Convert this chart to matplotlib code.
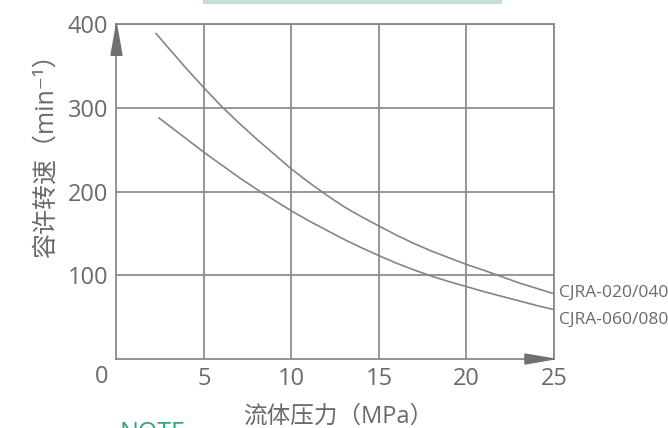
import matplotlib
matplotlib.use("Agg")
import matplotlib.pyplot as plt
from matplotlib.patches import Polygon, Rectangle

plt.rcParams['font.family'] = ['Open Sans', 'Noto Sans CJK SC', 'DejaVu Sans']

# pressure (MPa) vs allowed speed (min^-1)
x_upper = [2.26, 3, 4, 5, 6, 7, 8, 9, 10, 11, 12, 13, 14, 15, 16, 17, 18, 19, 20, 21, 22, 23, 24, 25]
y_upper = [389, 371, 347, 324, 302, 282, 263, 245, 227, 211, 196, 182, 170, 159, 148, 138, 129, 121, 113, 106, 98.5, 91, 84.5, 78]

x_lower = [2.43, 3, 4, 5, 6, 7, 8, 9, 10, 11, 12, 13, 14, 15, 16, 17, 18, 19, 20, 21, 22, 23, 24, 25]
y_lower = [288, 279, 263, 247, 232, 217, 203, 190, 177, 165, 154, 143, 133, 123.5, 114.5, 106.5, 99, 92.5, 86.5, 80.5, 75, 69.5, 64, 59]

series_names = ['CJRA-020/040', 'CJRA-060/080']
x_ticks = [5, 10, 15, 20, 25]
y_ticks = [100, 200, 300, 400]

line_col = '#858585'
text_col = '#6a6a6a'

fig = plt.figure(figsize=(6.68, 4.28), dpi=100)
ax = fig.add_axes([0.1744, 0.1612, 0.6549, 0.782])

ax.plot(x_upper, y_upper, color=line_col, lw=1.2, clip_on=False)
ax.plot(x_lower, y_lower, color=line_col, lw=1.2, clip_on=False)

ax.set_xlim(0, 25)
ax.set_ylim(0, 400)
ax.set_xticks(x_ticks)
ax.set_yticks(y_ticks)
ax.tick_params(length=0, labelsize=17, labelcolor=text_col)
ax.tick_params(axis='x', pad=6)
ax.tick_params(axis='y', pad=6)
ax.grid(True, color='#8e8e8e', lw=1.3)
for s in ax.spines.values():
    s.set_color('#8a8a8a')
    s.set_linewidth(1.3)
ax.set_axisbelow(True)

ax.text(-0.85, -22, '0', fontsize=17, color=text_col, ha='center', va='center')

# series labels at the right end of each curve
ax.text(25.3, y_upper[-1] + 1, series_names[0], fontsize=12.5, color=text_col, va='center', clip_on=False)
ax.text(25.3, y_lower[-1] - 12, series_names[1], fontsize=12.5, color=text_col, va='center', clip_on=False)

# arrow heads on the axes
w, h = 437.5, 335.0
ax.add_patch(Polygon([(0, 1), (-5.5 / w, 1 - 31 / h), (5.5 / w, 1 - 31 / h)], closed=True,
                     transform=ax.transAxes, color='#707070', clip_on=False, zorder=5))
ax.add_patch(Polygon([(1, 0), (1 - 29 / w, 5 / h), (1 - 29 / w, -5 / h)], closed=True,
                     transform=ax.transAxes, color='#707070', clip_on=False, zorder=5))

fig.text(46 / 668, 1 - 150 / 428, '容许转速（min⁻¹）', rotation=90, fontsize=18,
         color=text_col, ha='center', va='center')
fig.text(338 / 668, 1 - 417 / 428, '流体压力（MPa）', fontsize=17,
         color=text_col, ha='center', va='center')
fig.text(120 / 668, 1 - 440 / 428, 'NOTE', fontsize=18, color='#2fa58a', va='baseline')

fig.patches.append(Rectangle((203 / 668, 1 - 2.5 / 428), 298 / 668, 2.5 / 428,
                             transform=fig.transFigure, color='#c7dcd8', zorder=0))

fig.savefig('out.png', dpi=100)
